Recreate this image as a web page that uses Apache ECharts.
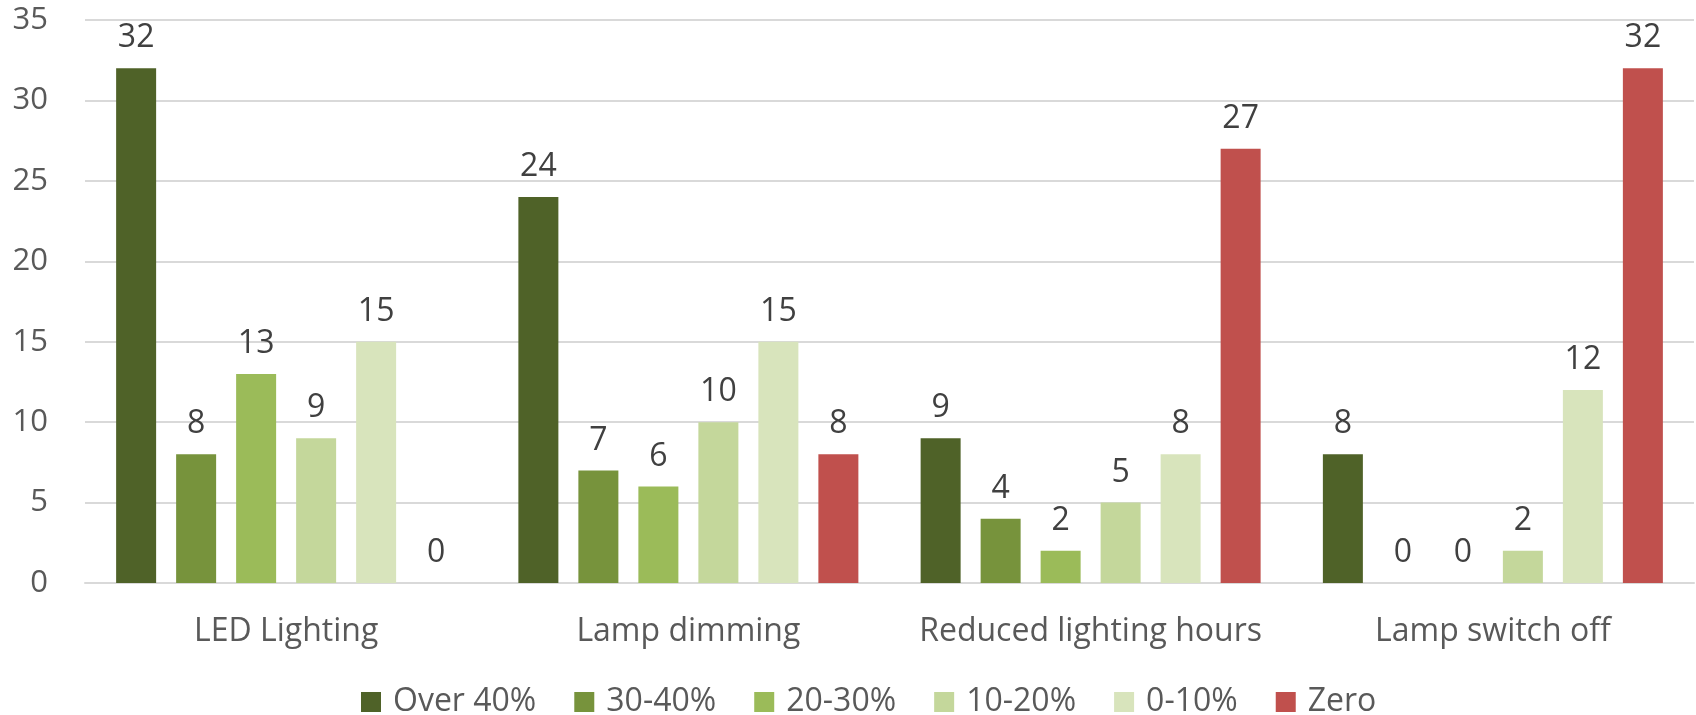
<!DOCTYPE html>
<html>
<head>
<meta charset="utf-8">
<script src="https://cdn.jsdelivr.net/npm/echarts@6/dist/echarts.min.js"></script>
<style>
  html, body { margin: 0; padding: 0; background: #fff; }
  #chartColumnar_column { width: 1696px; height: 715px; }
</style>
</head>
<body>
<div id="chartColumnar_column"></div>
<script>
// categories and series
var categories = ['LED Lighting', 'Lamp dimming', 'Reduced lighting hours', 'Lamp switch off'];
var seriesNames = ['Over 40%', '30-40%', '20-30%', '10-20%', '0-10%', 'Zero'];
var over40 = [32, 24, 9, 8];
var s30to40 = [8, 7, 4, 0];
var s20to30 = [13, 6, 2, 0];
var s10to20 = [9, 10, 5, 2];
var s0to10 = [15, 15, 8, 12];
var zero = [0, 8, 27, 32];
var values = [over40, s30to40, s20to30, s10to20, s0to10, zero];

var colors = ["#4f6228", "#77933c", "#9bbb59", "#c4d79b", "#d8e4bc", "#c0504d"];
var fontName = '"Open Sans", sans-serif';

var series = [];
for (var i = 0; i < seriesNames.length; i++) {
    series.push({
        name: seriesNames[i],
        type: 'bar',
        barWidth: 40,
        barGap: '50%',
        data: values[i],
        label: {
            show: true,
            position: 'top',
            distance: 14,
            color: "#404040",
            fontSize: 32,
            fontFamily: fontName
        }
    });
}

var chartColumnar_column = {
    color: colors,
    animation: false,
    textStyle: {
        fontFamily: fontName
    },
    legend: {
        top: 681,
        left: 356,
        itemWidth: 20,
        itemHeight: 20,
        itemGap: 38,
        icon: 'rect',
        textStyle: {
            color: "#595959",
            fontSize: 32,
            padding: [0, 0, 0, 7],
            fontFamily: fontName
        }
    },
    grid: {
        top: 20,
        left: 85,
        right: 2,
        bottom: 132,
        containLabel: false
    },
    xAxis: {
        type: 'category',
        data: categories,
        axisTick: { show: false },
        axisLine: {
            lineStyle: {
                color: "#d9d9d9",
                width: 2
            }
        },
        axisLabel: {
            interval: 0,
            color: "#595959",
            fontSize: 32,
            margin: 33,
            fontFamily: fontName
        }
    },
    yAxis: {
        type: 'value',
        min: 0,
        max: 35,
        interval: 5,
        axisLine: { show: false },
        axisTick: { show: false },
        axisLabel: {
            color: "#595959",
            fontSize: 31,
            margin: 37,
            fontFamily: fontName
        },
        splitLine: {
            show: true,
            lineStyle: {
                color: "#d9d9d9",
                width: 2,
                type: 'solid'
            }
        }
    },
    series: series
};

var myChartColumnar_column = echarts.init(document.getElementById('chartColumnar_column'));
myChartColumnar_column.setOption(chartColumnar_column);
</script>
</body>
</html>
